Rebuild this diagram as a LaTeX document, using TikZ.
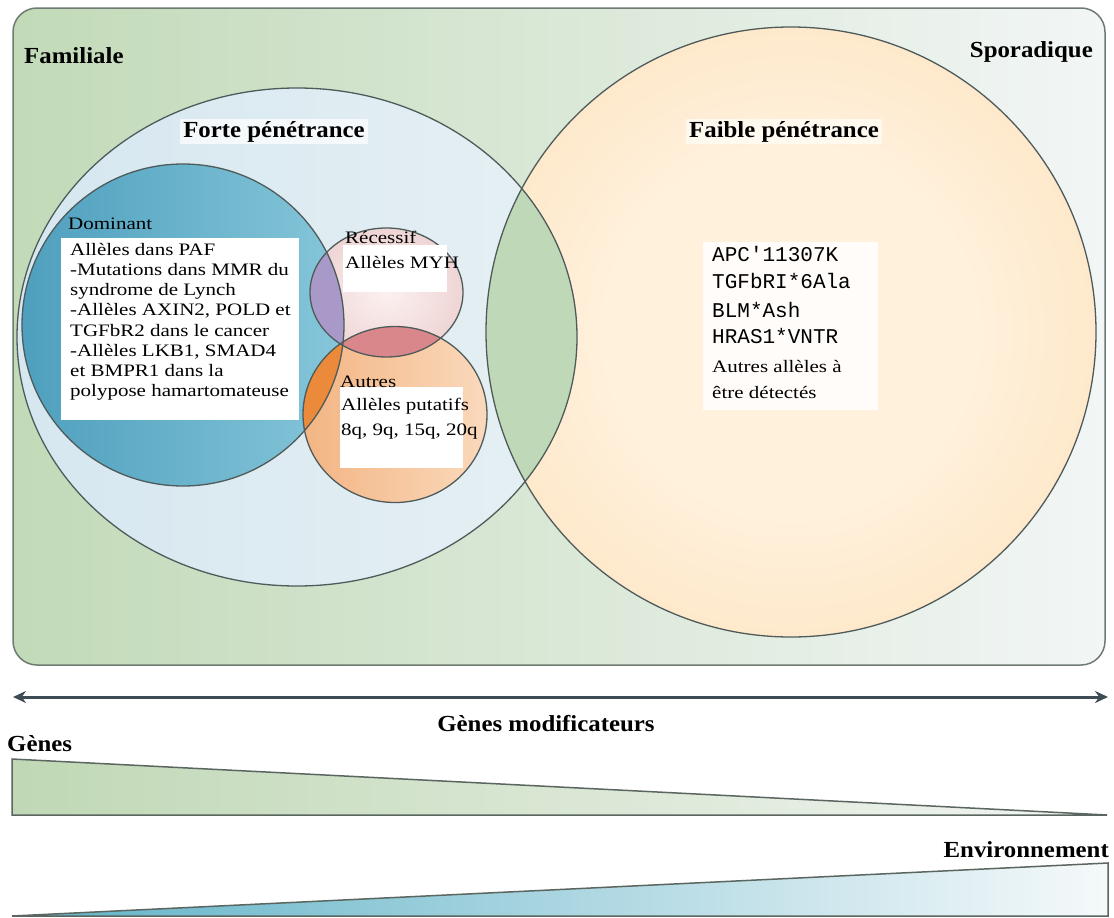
\documentclass[tikz,border=0pt]{standalone}
\usepackage{fontspec}
\setmainfont{Liberation Serif}
\newfontfamily\headfont[FakeStretch=1.08]{Liberation Serif}
\newfontfamily\bodyfont[FakeStretch=1.2]{Liberation Serif}
\newfontfamily\codefont{Liberation Mono}
\usetikzlibrary{arrows.meta}
\definecolor{frameL}{HTML}{C2DAB8}
\definecolor{frameR}{HTML}{F2F6F6}
\definecolor{framec}{HTML}{6F7B72}
\definecolor{ringc}{HTML}{4F5B5A}
\definecolor{forteL}{HTML}{D6E7F0}
\definecolor{forteR}{HTML}{E6F0F4}
\definecolor{faibleIn}{HTML}{FFF1DC}
\definecolor{faibleOut}{HTML}{FBD5A2}
\definecolor{lensgreen}{HTML}{BFD8B7}
\definecolor{domL}{HTML}{4E9FBE}
\definecolor{domR}{HTML}{86C6D9}
\definecolor{recIn}{HTML}{FBF1F0}
\definecolor{recOut}{HTML}{EFD5D5}
\definecolor{autL}{HTML}{F3B583}
\definecolor{autR}{HTML}{FAD9BC}
\definecolor{domrec}{HTML}{A899C9}
\definecolor{domaut}{HTML}{EA8A3A}
\definecolor{recaut}{HTML}{D9878A}
\definecolor{arrowc}{HTML}{3D4C54}
\definecolor{trianc}{HTML}{5B6660}
\definecolor{genL}{HTML}{C0D8B5}
\definecolor{genR}{HTML}{F2F5F2}
\definecolor{envL}{HTML}{5FB2C7}
\definecolor{envM}{HTML}{D3E9F0}
\definecolor{envR}{HTML}{F5F9FA}
\pgfdeclareradialshading{faibleshade}{\pgfpoint{0bp}{0bp}}{color(0bp)=(faibleIn); color(15bp)=(faibleIn); color(50bp)=(faibleOut); color(100bp)=(faibleOut)}
\tikzset{
  head/.style={font=\headfont\bfseries\fontsize{23}{26}\selectfont, inner sep=0pt},
  body/.style={font=\bodyfont\fontsize{17.5}{20}\selectfont, inner sep=0pt},
  codetext/.style={font=\codefont\fontsize{21}{24}\selectfont, inner sep=0pt},
  ring/.style={draw=ringc, line width=1.3pt},
  wbox/.style={fill=white, draw=none, inner sep=0pt, anchor=north west},
  tritip/.tip={Stealth[length=13pt,width=12pt]}
}
\begin{document}
\begin{tikzpicture}[x=1pt,y=-1pt]
\useasboundingbox (0,0) rectangle (1114,918);
% frame
\draw[draw=framec, line width=1.5pt, left color=frameL, right color=frameR, rounded corners=24pt] (13,8) rectangle (1105,665);
% faible
\shade[shading=faibleshade] (791,332) circle [radius=305];
% forte
\shade[left color=forteL, right color=forteR] (297,337) ellipse [x radius=280, y radius=249];
\begin{scope}
  \clip (297,337) ellipse [x radius=280, y radius=249];
  \fill[lensgreen] (791,332) circle [radius=305];
\end{scope}
% dominant, recessif, autres
\shade[left color=domL, right color=domR] (183,325) circle [radius=161];
\shade[inner color=recIn, outer color=recOut] (386.5,292.5) ellipse [x radius=76.5, y radius=64.5];
\shade[left color=autL, right color=autR] (395,414.5) ellipse [x radius=92, y radius=88];
\begin{scope}
  \clip (183,325) circle [radius=161];
  \fill[domrec] (386.5,292.5) ellipse [x radius=76.5, y radius=64.5];
  \fill[domaut] (395,414.5) ellipse [x radius=92, y radius=88];
\end{scope}
\begin{scope}
  \clip (386.5,292.5) ellipse [x radius=76.5, y radius=64.5];
  \fill[recaut] (395,414.5) ellipse [x radius=92, y radius=88];
\end{scope}
% outlines
\draw[ring] (791,332) circle [radius=305];
\draw[ring] (297,337) ellipse [x radius=280, y radius=249];
\draw[ring] (183,325) circle [radius=161];
\draw[ring] (386.5,292.5) ellipse [x radius=76.5, y radius=64.5];
\draw[ring] (395,414.5) ellipse [x radius=92, y radius=88];
% white boxes
\node[wbox, minimum width=238pt, minimum height=182pt] (domBox) at (61,238) {};
\node[wbox, minimum width=104pt, minimum height=47pt] (recBox) at (343,245) {};
\node[wbox, minimum width=123pt, minimum height=81pt] (autBox) at (340,387) {};
\node[wbox, minimum width=175pt, minimum height=168pt, fill opacity=0.85] (faiBox) at (703,242) {};
% headings
\node[head, anchor=base west] (familiale) at (24,63) {Familiale};
\node[head, anchor=base east] (sporadique) at (1093,57) {Sporadique};
\node[head, anchor=base, fill=white, fill opacity=0.7, text opacity=1, inner xsep=3pt, inner ysep=2pt] (forte) at (274,137) {Forte pénétrance};
\node[head, anchor=base, fill=white, fill opacity=0.6, text opacity=1, inner xsep=3pt, inner ysep=2pt] (faible) at (784,137) {Faible pénétrance};
% dominant text
\node[body, anchor=base west] (domLabel) at (68,229) {Dominant};
\foreach \t [count=\i] in {{Allèles dans PAF},{-Mutations dans MMR du},{syndrome de Lynch},{-Allèles AXIN2, POLD et},{TGFbR2 dans le cancer},{-Allèles LKB1, SMAD4},{et BMPR1 dans la},{polypose hamartomateuse}}
  \node[body, anchor=base west] (dom\i) at (70,255+20.25*\i-20.25) {\t};
% recessif
\node[body, anchor=base west] (recLabel) at (345,243) {Récessif};
\node[body, anchor=base west] (recText) at (345,268) {Allèles MYH};
% autres
\node[body, anchor=base west] (autLabel) at (340,387) {Autres};
\node[body, anchor=base west] (autText1) at (341,410) {Allèles putatifs};
\node[body, anchor=base west] (autText2) at (341,435) {8q, 9q, 15q, 20q};
% faible text
\node[codetext, anchor=base west] (fa1) at (712,261) {APC'11307K};
\node[codetext, anchor=base west] (fa2) at (712,288) {TGFbRI*6Ala};
\node[codetext, anchor=base west] (fa3) at (712,317) {BLM*Ash};
\node[codetext, anchor=base west] (fa4) at (712,343) {HRAS1*VNTR};
\node[body, anchor=base west] (fa5) at (712,372) {Autres allèles à};
\node[body, anchor=base west] (fa6) at (712,398) {être détectés};
% bottom
\coordinate (arrL) at (13,697);
\coordinate (arrR) at (1108,697);
\draw[arrowc, line width=3pt, {tritip}-{tritip}] (arrL) -- (arrR);
\node[head, anchor=base] (modif) at (546,731) {Gènes modificateurs};
\node[head, anchor=base west] (genes) at (7,751) {Gènes};
\draw[trianc, line width=1.5pt, left color=genL, right color=genR] (12,759) -- (1107,815) -- (12,815) -- cycle;
\node[head, anchor=base east] (env) at (1109,857) {Environnement};
\draw[trianc, line width=1.5pt, left color=envL, middle color=envM, right color=envR] (12,916) -- (1108,863) -- (1108,916) -- cycle;
\end{tikzpicture}
\end{document}
